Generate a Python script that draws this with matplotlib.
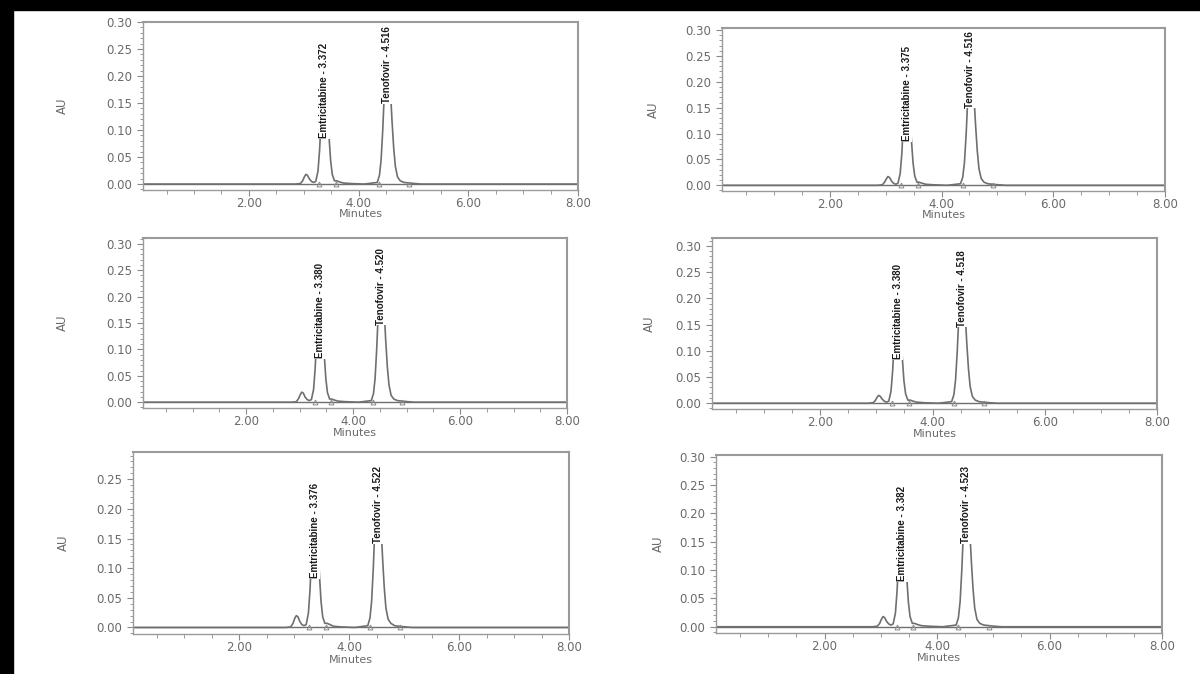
import matplotlib
matplotlib.use("Agg")
import matplotlib.pyplot as plt
from matplotlib import font_manager
from matplotlib.ticker import MultipleLocator, FormatStrFormatter
from matplotlib.patches import Rectangle

# ---------------- data ----------------
time_min = [0.05, 2.85, 2.94, 2.98, 3.01, 3.04, 3.07, 3.10, 3.14, 3.18, 3.22,
            3.26, 3.29, 3.32, 3.35, 3.375, 3.40, 3.43, 3.46, 3.49, 3.52, 3.56,
            3.60, 3.65, 3.72, 3.85, 4.10, 4.34, 4.38, 4.41, 4.44, 4.47, 4.50,
            4.52, 4.55, 4.58, 4.61, 4.64, 4.67, 4.71, 4.76, 4.83, 4.92, 5.02,
            5.15, 8.00]

au_p1 = [0.000, 0.000, 0.001, 0.006, 0.013, 0.018, 0.016, 0.010, 0.005, 0.003, 0.005,
         0.024, 0.064, 0.128, 0.190, 0.210, 0.195, 0.147, 0.090, 0.044, 0.018, 0.006,
         0.006, 0.004, 0.002, 0.001, 0.000, 0.003, 0.016, 0.044, 0.099, 0.170, 0.227,
         0.240, 0.221, 0.174, 0.116, 0.067, 0.033, 0.013, 0.006, 0.003, 0.002, 0.001,
         0.000, 0.000]
au_p2 = [0.000, 0.000, 0.001, 0.006, 0.012, 0.017, 0.015, 0.009, 0.004, 0.002, 0.004,
         0.023, 0.063, 0.127, 0.189, 0.209, 0.194, 0.146, 0.089, 0.043, 0.018, 0.006,
         0.006, 0.004, 0.002, 0.001, 0.000, 0.003, 0.016, 0.044, 0.098, 0.169, 0.226,
         0.239, 0.220, 0.173, 0.115, 0.066, 0.032, 0.013, 0.006, 0.003, 0.002, 0.001,
         0.000, 0.000]
au_p3 = [0.000, 0.000, 0.001, 0.007, 0.014, 0.019, 0.017, 0.010, 0.005, 0.003, 0.005,
         0.024, 0.064, 0.128, 0.190, 0.210, 0.195, 0.147, 0.090, 0.044, 0.018, 0.006,
         0.006, 0.004, 0.002, 0.001, 0.000, 0.003, 0.016, 0.044, 0.099, 0.170, 0.227,
         0.240, 0.221, 0.174, 0.116, 0.067, 0.033, 0.013, 0.006, 0.003, 0.002, 0.001,
         0.000, 0.000]
au_p4 = [0.000, 0.000, 0.001, 0.005, 0.011, 0.015, 0.013, 0.008, 0.004, 0.002, 0.004,
         0.023, 0.063, 0.127, 0.189, 0.209, 0.194, 0.146, 0.089, 0.043, 0.018, 0.006,
         0.006, 0.004, 0.002, 0.001, 0.000, 0.003, 0.016, 0.044, 0.098, 0.169, 0.226,
         0.239, 0.220, 0.173, 0.115, 0.066, 0.032, 0.013, 0.006, 0.003, 0.002, 0.001,
         0.000, 0.000]
au_p5 = [0.000, 0.000, 0.001, 0.007, 0.015, 0.020, 0.018, 0.011, 0.005, 0.003, 0.005,
         0.024, 0.064, 0.128, 0.190, 0.210, 0.195, 0.147, 0.090, 0.044, 0.018, 0.007,
         0.007, 0.005, 0.002, 0.001, 0.000, 0.003, 0.016, 0.044, 0.099, 0.170, 0.227,
         0.240, 0.221, 0.174, 0.116, 0.067, 0.033, 0.014, 0.007, 0.003, 0.002, 0.001,
         0.000, 0.000]
au_p6 = [0.000, 0.000, 0.001, 0.006, 0.013, 0.018, 0.016, 0.010, 0.005, 0.003, 0.005,
         0.024, 0.064, 0.128, 0.190, 0.210, 0.195, 0.147, 0.090, 0.044, 0.018, 0.006,
         0.006, 0.004, 0.002, 0.001, 0.000, 0.003, 0.016, 0.044, 0.099, 0.170, 0.227,
         0.240, 0.221, 0.174, 0.116, 0.067, 0.033, 0.013, 0.006, 0.003, 0.002, 0.001,
         0.000, 0.000]
traces = [au_p1, au_p2, au_p3, au_p4, au_p5, au_p6]

emtri_rt = [3.372, 3.375, 3.380, 3.380, 3.376, 3.382]
teno_rt = [4.516, 4.516, 4.520, 4.518, 4.522, 4.523]
emtri_label_au = [0.085, 0.085, 0.084, 0.084, 0.083, 0.081]
teno_label_au = [0.150, 0.150, 0.147, 0.146, 0.142, 0.147]
integration_marks = [3.28, 3.58, 4.38, 4.92]

ytick_vals = [0.00, 0.05, 0.10, 0.15, 0.20, 0.25, 0.30]
xtick_vals = [2.0, 4.0, 6.0, 8.0]
ylim_top = [0.300, 0.304, 0.311, 0.315, 0.296, 0.303]

# ---------------- layout (pixel boxes: left, right, top, bottom) ----------------
W, H = 1200, 674
boxes = [(143, 578, 22, 190), (722, 1165, 28, 191),
         (143, 567, 238, 408), (712, 1157, 238, 409),
         (133, 569, 452, 634), (716, 1162, 455, 633)]
au_label_x = [-0.17, -0.14, -0.175, -0.125, -0.145, -0.115]

available = {f.name for f in font_manager.fontManager.ttflist}
if "Liberation Sans Narrow" in available:
    peak_font, peak_size = "Liberation Sans Narrow", 8.8
else:
    peak_font, peak_size = "Liberation Sans", 7.0

fig = plt.figure(figsize=(W / 100, H / 100), dpi=100)
fig.patch.set_facecolor("white")

tick_col = "#6a6a6a"
line_col = "#6f6f6f"

for i, (l, r, t, b) in enumerate(boxes):
    ax = fig.add_axes([l / W, 1 - b / H, (r - l) / W, (b - t) / H])
    ax.plot(time_min, traces[i], color=line_col, lw=1.2, zorder=2)
    ax.axhline(0.0, color=line_col, lw=1.0, zorder=1)
    ax.plot(integration_marks, [0.0] * len(integration_marks), ls="none",
            marker="^", ms=3.5, mfc="none", mec="#8a8a8a", mew=0.7, zorder=3)

    ax.set_xlim(0.07, 8.0)
    ax.set_ylim(-0.011, ylim_top[i])
    ax.set_xticks(xtick_vals)
    ax.xaxis.set_minor_locator(MultipleLocator(0.5))
    ax.set_yticks([v for v in ytick_vals if v <= ylim_top[i] + 1e-9])
    ax.yaxis.set_minor_locator(MultipleLocator(0.01))
    ax.xaxis.set_major_formatter(FormatStrFormatter("%.2f"))
    ax.yaxis.set_major_formatter(FormatStrFormatter("%.2f"))
    ax.tick_params(which="both", direction="out", colors="#8a8a8a",
                   labelcolor=tick_col, labelsize=8.5)
    ax.tick_params(axis="x", which="major", length=4, pad=1)
    ax.tick_params(axis="x", which="minor", length=3)
    ax.tick_params(axis="y", which="major", length=4, pad=4)
    ax.tick_params(axis="y", which="minor", length=2)
    for side, sp in ax.spines.items():
        sp.set_color("#9a9a9a")
        sp.set_linewidth(1.5 if side in ("top", "right") else 1.0)

    ax.set_ylabel("AU", color=tick_col, fontsize=8.5)
    ax.yaxis.set_label_coords(au_label_x[i], 0.5)
    ax.set_xlabel("Minutes", color=tick_col, fontsize=8)
    ax.xaxis.set_label_coords(0.5, -0.115)

    bb = dict(facecolor="white", edgecolor="none", pad=0.5)
    ax.text(emtri_rt[i], emtri_label_au[i], f"Emtricitabine - {emtri_rt[i]:.3f}",
            rotation=90, ha="center", va="bottom", fontsize=peak_size, color="#1a1a1a",
            family=peak_font, weight="bold", bbox=bb, zorder=4)
    ax.text(teno_rt[i], teno_label_au[i], f"Tenofovir - {teno_rt[i]:.3f}",
            rotation=90, ha="center", va="bottom", fontsize=peak_size, color="#1a1a1a",
            family=peak_font, weight="bold", bbox=bb, zorder=4)

# black scan border (top and left)
fig.patches.append(Rectangle((0, 1 - 10 / H), 1, 10 / H, transform=fig.transFigure,
                             color="black", zorder=10))
fig.patches.append(Rectangle((0, 0), 13 / W, 1, transform=fig.transFigure,
                             color="black", zorder=10))

fig.savefig("out.png", dpi=100)
